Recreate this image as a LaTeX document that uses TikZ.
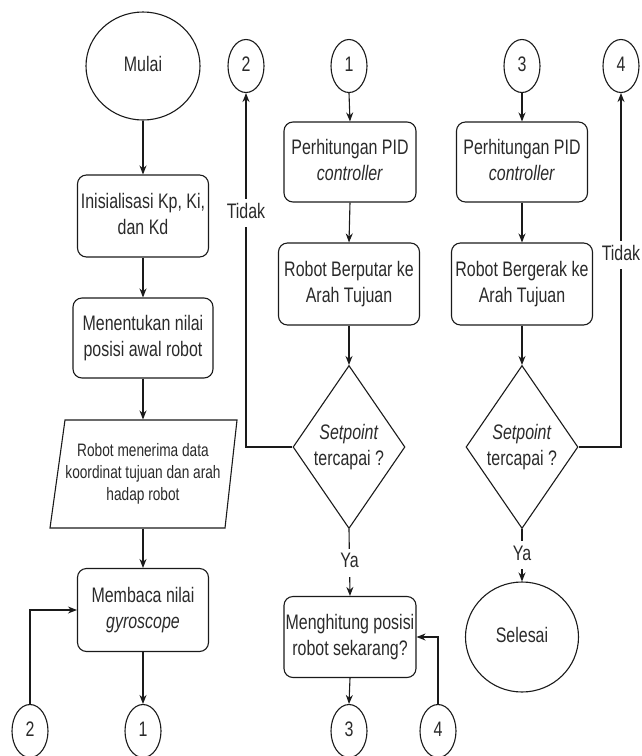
\documentclass[tikz,border=0pt]{standalone}
\usepackage{fontspec}
\setmainfont{Liberation Sans}
\usetikzlibrary{shapes.geometric,arrows.meta}
\definecolor{ln}{HTML}{1A1A1A}
\definecolor{tx}{HTML}{2A2A2A}
\newcommand{\sqz}[1]{\scalebox{0.76}[1]{\begin{tabular}{@{}c@{}}#1\end{tabular}}}
\begin{document}
\begin{tikzpicture}[x=1pt,y=-1pt,
  base/.style={draw=ln, line width=1.1pt, text=tx, inner sep=0pt, font=\fontsize{21}{26}\selectfont},
  proc/.style={base, rectangle, rounded corners=9pt},
  term/.style={base, ellipse},
  conn/.style={base, ellipse, minimum width=36pt, minimum height=53pt},
  dec/.style={base, diamond, aspect=0.687, minimum width=112pt, minimum height=163pt},
  arr/.style={draw=ln, line width=1.1pt, -{Stealth[length=9pt,width=7pt]}},
  lab/.style={fill=white, text=tx, inner sep=1pt, font=\fontsize{21}{26}\selectfont}
]
\useasboundingbox (0,0) rectangle (641,756);

% column 1
\node[term, minimum width=114pt, minimum height=108pt] (mulai) at (143,66) {\sqz{Mulai}};
\node[proc, minimum width=131pt, minimum height=82pt] (init) at (143,216) {\sqz{Inisialisasi Kp, Ki,\\dan Kd}};
\node[proc, minimum width=140pt, minimum height=80pt] (tentu) at (143,338) {\sqz{Menentukan nilai\\posisi awal robot}};
\node[base, draw=none, minimum width=170pt, minimum height=108pt, font=\fontsize{18}{21.7}\selectfont] (para) at (143,474) {\sqz{Robot menerima data\\koordinat tujuan dan arah\\hadap robot}};
\draw[draw=ln, line width=1.1pt] (65,420) -- (237,420) -- (225,528) -- (50,528) -- cycle;
\node[proc, minimum width=131pt, minimum height=83pt] (baca) at (143,610) {\sqz{Membaca nilai\\\textit{gyroscope}}};
\node[conn] (c1bot) at (143,731) {\sqz{1}};
\node[conn] (c2bot) at (30,731) {\sqz{2}};

% column 2
\node[conn] (c2top) at (246,66) {\sqz{2}};
\node[conn] (c1top) at (349,66) {\sqz{1}};
\node[proc, minimum width=132pt, minimum height=80pt] (pid1) at (350,162) {\sqz{Perhitungan PID\\\textit{controller}}};
\node[proc, minimum width=141pt, minimum height=82pt] (putar) at (349,284) {\sqz{Robot Berputar ke\\Arah Tujuan}};
\node[dec] (dia1) at (349,447) {\sqz{\textit{Setpoint}\\tercapai ?}};
\node[proc, minimum width=132pt, minimum height=81pt] (hitung) at (350,637) {\sqz{Menghitung posisi\\robot sekarang?}};
\node[conn] (c3bot) at (349,731) {\sqz{3}};
\node[conn] (c4bot) at (438,731) {\sqz{4}};

% column 3
\node[conn] (c3top) at (522,66) {\sqz{3}};
\node[conn] (c4top) at (621,66) {\sqz{4}};
\node[proc, minimum width=131pt, minimum height=80pt] (pid2) at (522,162) {\sqz{Perhitungan PID\\\textit{controller}}};
\node[proc, minimum width=141pt, minimum height=82pt] (gerak) at (522,284) {\sqz{Robot Bergerak ke\\Arah Tujuan}};
\node[dec] (dia2) at (522,447) {\sqz{\textit{Setpoint}\\tercapai ?}};
\node[term, minimum width=113pt, minimum height=110pt] (selesai) at (522,637) {\sqz{Selesai}};

% connectors
\draw[arr] (mulai.south) -- (init.north);
\draw[arr] (init.south) -- (tentu.north);
\draw[arr] (tentu.south) -- (para.north);
\draw[arr] (para.south) -- (baca.north);
\draw[arr] (baca.south) -- (c1bot.north);
\draw[arr] (c2bot.north) |- (baca.west);

\draw[arr] (c1top.south) -- (pid1.north);
\draw[arr] (pid1.south) -- (putar.north);
\draw[arr] (putar.south) -- (dia1.north);
\draw[arr] (dia1.west) -| node[lab, pos=0.83] {\sqz{Tidak}} (c2top.south);
\draw[arr] (dia1.south) -- node[lab] {\sqz{Ya}} (hitung.north);
\draw[arr] (hitung.south) -- (c3bot.north);
\draw[arr] (c4bot.north) |- (hitung.east);

\draw[arr] (c3top.south) -- (pid2.north);
\draw[arr] (pid2.south) -- (gerak.north);
\draw[arr] (gerak.south) -- (dia2.north);
\draw[arr] (dia2.east) -| node[lab, pos=0.771] {\sqz{Tidak}} (c4top.south);
\draw[arr] (dia2.south) -- node[lab] {\sqz{Ya}} (selesai.north);
\end{tikzpicture}
\end{document}
